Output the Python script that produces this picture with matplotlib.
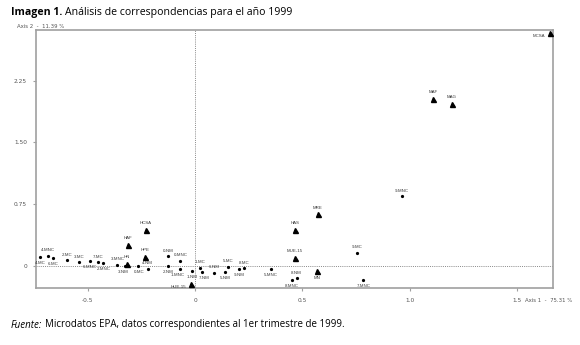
import matplotlib
matplotlib.use("Agg")
import matplotlib.pyplot as plt

# ==== DATA ====
# supplementary categories (triangles)
tri_labels = ["MCSA", "MAF", "MAG", "MRE", "HAS", "MUE-15", "MN",
              "HCSA", "HAF", "HPE", "HN", "HUE-15"]
tri_x = [1.654, 1.110, 1.196, 0.571, 0.466, 0.466, 0.569,
         -0.231, -0.315, -0.235, -0.317, -0.021]
tri_y = [2.831, 2.024, 1.964, 0.623, 0.434, 0.094, -0.061,
         0.438, 0.252, 0.102, 0.024, -0.225]

# active categories (dots)
dot_labels = ["9-MNC", "9-MC", "7-MNC", "8-NM", "8-MNC", "5-MNC",
              "5-MC", "8-MC", "9-NM", "5-NM", "6-NM", "7-NM", "1-MC",
              "1-NM", "1-MNC", "0-MNC", "0-NM", "2-NM", "4-NM", "0-MC",
              "3-NM", "3-MNC", "2-MNC", "7-MC", "6-MNC", "3-MC", "2-MC",
              "4-MC", "4-MNC", "6-MC"]
dot_x = [0.965, 0.754, 0.784, 0.473, 0.451, 0.353,
         0.154, 0.227, 0.203, 0.139, 0.089, 0.033, 0.024,
         -0.014, -0.069, -0.069, -0.125, -0.125, -0.222, -0.267,
         -0.327, -0.363, -0.428, -0.453, -0.490, -0.543, -0.599,
         -0.722, -0.688, -0.662]
dot_y = [0.848, 0.155, -0.174, -0.150, -0.168, -0.044,
         -0.012, -0.028, -0.044, -0.077, -0.085, -0.073, -0.024,
         -0.064, -0.044, 0.061, 0.114, 0.000, -0.036, -0.004,
         -0.004, 0.012, 0.036, 0.045, 0.054, 0.041, 0.066,
         0.106, 0.122, 0.090]

x_ticks = [-0.5, 0, 0.5, 1.0, 1.5]
x_ticklabels = ["-0.5", "0", "0.5", "1.0", "1.5"]
y_ticks = [0, 0.75, 1.50, 2.25]
y_ticklabels = ["0", "0.75", "1.50", "2.25"]

# label placement (style only)
below = {"7-MNC", "8-MNC", "5-MNC", "5-NM", "9-NM", "7-NM", "1-NM",
         "1-MNC", "2-NM", "0-MC", "3-NM", "2-MNC", "6-MNC", "4-MC",
         "6-MC", "MN"}
left = {"MCSA", "HUE-15"}
nudge = {"1-MNC": -1.8, "7-NM": 1.5, "3-NM": -1.0, "0-MC": 1.0}

# ==== FIGURE ====
fig = plt.figure(figsize=(5.8, 3.45), dpi=100)
ax = fig.add_axes([0.0621, 0.1638, 0.8913, 0.7478])
ax.set_xlim(-0.742, 1.668)
ax.set_ylim(-0.277, 2.861)

gray = "#a0a0a0"
for s in ax.spines.values():
    s.set_color(gray)
    s.set_linewidth(1.2)

ax.axhline(0, color="#888888", lw=0.7, ls=(0, (1, 1.2)), zorder=1)
ax.axvline(0, color="#888888", lw=0.7, ls=(0, (1, 1.2)), zorder=1)

ax.set_xticks(x_ticks)
ax.set_xticklabels(x_ticklabels)
ax.set_yticks(y_ticks)
ax.set_yticklabels(y_ticklabels)
ax.tick_params(direction="out", length=2.5, width=0.8, color=gray,
               labelsize=4.2, labelcolor="#555555", pad=4)
for lbl in ax.get_xticklabels() + ax.get_yticklabels():
    lbl.set_family("DejaVu Sans")

ax.plot(tri_x, tri_y, "^", color="black", ms=3.6, zorder=3)
ax.plot(dot_x, dot_y, "o", color="black", ms=1.3, zorder=3)

def put_label(name, x, y, tri):
    dx = nudge.get(name, 0)
    if name in left:
        off, ha, va = (-3.5, -2.0), "right", "center"
    elif name in below:
        off, ha, va = (dx, -3.0 if not tri else -4.0), "center", "top"
    else:
        off, ha, va = (dx, 2.5 if not tri else 3.5), "center", "bottom"
    ax.annotate(name, (x, y), xytext=off, textcoords="offset points",
                ha=ha, va=va, fontsize=3.2, color="#3a3a3a",
                family="Liberation Sans", zorder=4)

for n, x, y in zip(tri_labels, tri_x, tri_y):
    put_label(n, x, y, True)
for n, x, y in zip(dot_labels, dot_x, dot_y):
    put_label(n, x, y, False)

# axis titles
fig.text(17 / 580, 1 - 26 / 345, "Axis 2  -  11.39 %", fontsize=3.9,
         color="#555555", family="DejaVu Sans", va="center", ha="left")
fig.text(525 / 580, 1 - 301 / 345, "Axis 1  -  75.31 %", fontsize=3.9,
         color="#555555", family="DejaVu Sans", va="center", ha="left")

# title and source, second part placed after measuring the first
renderer = fig.canvas.get_renderer()

def two_part(y, first, second, first_kw, size):
    t1 = fig.text(11 / 580, y, first, fontsize=size, family="Open Sans",
                  va="center", ha="left", **first_kw)
    bb = t1.get_window_extent(renderer=renderer)
    fig.text((bb.x1 + 3) / 580, y, second, fontsize=size, family="Open Sans",
             va="center", ha="left")

two_part(1 - 12 / 345, "Imagen 1.", "Análisis de correspondencias para el año 1999",
         {"weight": "bold"}, 7.6)
two_part(1 - 325 / 345, "Fuente:",
         "Microdatos EPA, datos correspondientes al 1er trimestre de 1999.",
         {"style": "italic"}, 7.0)

fig.savefig("out.png", dpi=100)
